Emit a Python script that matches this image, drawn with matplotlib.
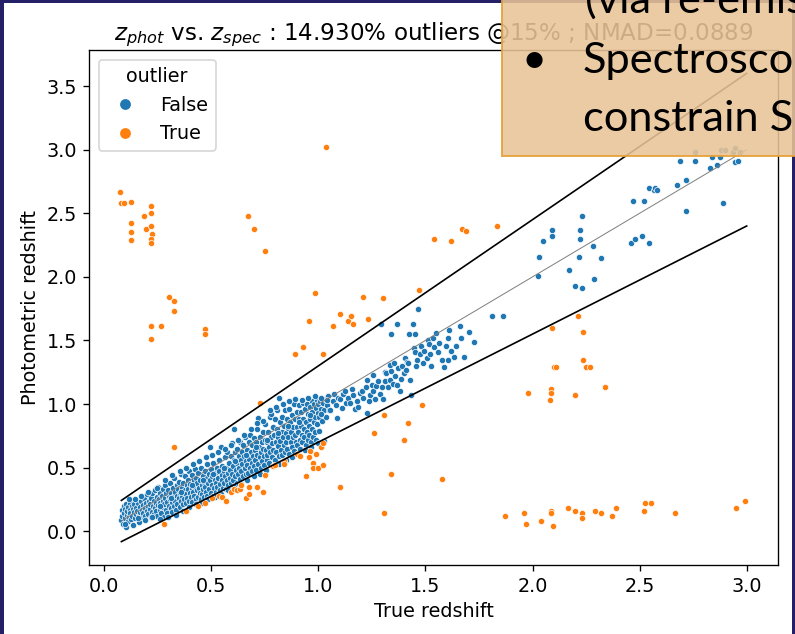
import numpy as np
import matplotlib
matplotlib.use("Agg")
import matplotlib.pyplot as plt
from matplotlib.patches import Rectangle
from matplotlib.lines import Line2D

plt.rcParams['font.size'] = 11.5

# points: (true redshift, photometric redshift)
blue_low = [(0.080,0.085),(0.082,0.170),(0.085,0.120),(0.088,0.060),(0.090,0.200),(0.092,0.140),(0.095,0.100),(0.098,0.175),(0.100,0.215),(0.103,0.030),(0.105,0.130),(0.108,0.155),(0.110,0.080),(0.112,0.190),(0.115,0.110),(0.118,0.220),(0.120,0.165),(0.122,0.140),(0.125,0.095),(0.128,0.200),(0.130,0.120),(0.135,0.175),(0.138,0.150),(0.140,0.215),(0.143,0.105),(0.147,0.185),(0.150,0.135),(0.152,0.160),(0.156,0.220),(0.160,0.070),(0.162,0.120),(0.165,0.190),(0.168,0.150),(0.172,0.240),(0.175,0.110),(0.178,0.170),(0.180,0.205),(0.183,0.140),(0.186,0.260),(0.190,0.180),(0.192,0.120),(0.195,0.225),(0.198,0.155),(0.200,0.290),(0.203,0.195),(0.206,0.135),(0.208,0.240),(0.212,0.175),(0.215,0.215),(0.218,0.115),
            (0.220,0.260),(0.222,0.150),(0.225,0.300),(0.228,0.200),(0.230,0.135),(0.233,0.240),(0.236,0.180),(0.238,0.320),(0.240,0.220),(0.243,0.160),(0.246,0.270),(0.248,0.120),(0.250,0.205),(0.253,0.350),(0.255,0.250),(0.258,0.170),(0.260,0.300),(0.262,0.225),(0.265,0.145),(0.268,0.280),(0.270,0.190),(0.272,0.330),(0.275,0.240),(0.278,0.110),(0.280,0.210),(0.282,0.360),(0.285,0.260),(0.288,0.170),(0.290,0.300),(0.292,0.230),(0.295,0.140),(0.298,0.320),(0.300,0.200),(0.302,0.270),(0.305,0.250),(0.308,0.380),(0.310,0.180),(0.312,0.300),(0.315,0.230),(0.318,0.150),(0.320,0.340),(0.322,0.270),(0.325,0.200),(0.328,0.420),(0.330,0.310),(0.332,0.240),(0.335,0.170),(0.338,0.360),(0.340,0.280),(0.342,0.210),(0.345,0.330),(0.348,0.260),(0.350,0.390),(0.352,0.190),(0.355,0.300),(0.358,0.450),(0.360,0.235),(0.362,0.340),(0.365,0.280),(0.368,0.210)]

blue_mid = [(0.370,0.380),(0.372,0.250),(0.375,0.320),(0.378,0.430),(0.380,0.220),(0.382,0.290),(0.385,0.360),(0.388,0.260),(0.390,0.400),(0.392,0.330),(0.395,0.470),(0.398,0.240),(0.400,0.300),(0.402,0.370),(0.405,0.270),(0.408,0.440),(0.410,0.340),(0.412,0.230),(0.415,0.310),(0.418,0.400),(0.420,0.280),(0.422,0.490),(0.425,0.350),(0.428,0.250),(0.430,0.420),(0.432,0.320),(0.435,0.380),(0.438,0.270),(0.440,0.460),(0.442,0.340),(0.445,0.300),(0.448,0.400),(0.450,0.250),(0.452,0.500),(0.455,0.360),(0.458,0.290),(0.460,0.430),(0.462,0.330),(0.465,0.390),(0.468,0.270),(0.470,0.470),(0.472,0.350),(0.475,0.310),(0.478,0.420),(0.480,0.530),(0.482,0.280),(0.485,0.380),(0.488,0.450),(0.490,0.330),(0.492,0.660),(0.495,0.400),(0.498,0.300),(0.500,0.490),(0.502,0.360),(0.505,0.430),(0.508,0.280),(0.510,0.540),(0.512,0.340),(0.515,0.400),(0.518,0.460),(0.520,0.310),(0.522,0.380),(0.525,0.500),(0.528,0.350),(0.530,0.420),(0.532,0.290),(0.535,0.470),(0.538,0.560),(0.540,0.370),(0.542,0.320),(0.545,0.660),(0.548,0.440),(0.550,0.400),(0.552,0.510),(0.555,0.340),(0.558,0.470),
            (0.560,0.380),(0.562,0.580),(0.565,0.430),(0.568,0.330),(0.570,0.500),(0.572,0.400),(0.575,0.620),(0.578,0.460),(0.580,0.360),(0.582,0.540),(0.585,0.420),(0.588,0.480),(0.590,0.380),(0.592,0.590),(0.595,0.450),(0.598,0.690),(0.600,0.510),(0.602,0.400),(0.605,0.800),(0.608,0.560),(0.610,0.430),(0.612,0.620),(0.615,0.480),(0.618,0.380),(0.620,0.540),(0.622,0.650),(0.625,0.450),(0.628,0.590),(0.630,0.500),(0.632,0.410),(0.635,0.700),(0.638,0.560),(0.640,0.470),(0.642,0.620),(0.645,0.530),(0.648,0.430),(0.650,0.680),(0.652,0.590),(0.655,0.500),(0.658,0.740),(0.660,0.550),(0.662,0.450),(0.665,0.640),(0.668,0.520),(0.670,0.600),(0.672,0.460),(0.675,0.700),(0.678,0.570),(0.680,0.500),(0.682,0.760),(0.685,0.620),(0.688,0.540),(0.690,0.470),(0.692,0.680),(0.695,0.590),(0.698,0.510),(0.700,0.730),(0.702,0.640),(0.705,0.560),(0.708,0.480),(0.710,0.700),(0.712,0.600),(0.715,0.800),(0.718,0.530),(0.720,0.890),(0.722,0.660),(0.725,0.580),(0.728,0.740),(0.730,0.500),(0.732,0.620),(0.735,0.700),(0.738,0.550),(0.740,0.780),(0.742,0.650),(0.745,0.590),(0.748,0.520),(0.750,0.720),(0.752,0.840),(0.755,0.640),(0.758,0.560)]

blue_one = [(0.760,0.700),(0.762,0.600),(0.765,0.780),(0.768,0.540),(0.770,0.660),(0.772,0.900),(0.775,0.620),(0.778,0.740),(0.780,0.920),(0.782,0.580),(0.785,0.690),(0.788,0.820),(0.790,0.640),(0.792,0.760),(0.795,0.560),(0.798,0.880),(0.800,0.700),(0.802,0.620),(0.805,0.800),(0.808,0.950),(0.810,0.670),(0.812,0.740),(0.815,0.590),(0.818,1.050),(0.820,0.860),(0.822,0.710),(0.825,0.640),(0.828,0.780),(0.830,0.900),(0.832,0.600),(0.835,0.740),(0.838,0.680),(0.840,0.830),(0.842,0.950),(0.845,0.620),(0.848,0.770),(0.850,0.700),(0.852,0.880),(0.855,0.650),(0.858,0.810),(0.860,0.740),(0.862,0.960),(0.865,0.610),(0.868,0.860),(0.870,0.700),(0.872,0.780),(0.875,0.910),(0.878,0.660),(0.880,0.820),(0.882,0.740),(0.885,1.000),(0.888,0.630),(0.890,0.880),(0.892,0.760),(0.895,0.700),(0.898,0.940),(0.900,0.820),(0.902,0.680),(0.905,0.780),(0.908,0.990),(0.910,0.880),(0.912,0.720),(0.915,0.650),(0.918,0.830),(0.920,0.940),(0.922,0.760),(0.925,0.700),(0.928,0.880),(0.930,1.010),(0.932,0.800),(0.935,0.740),(0.938,0.960),(0.940,0.680),(0.942,0.860),(0.945,0.780),(0.948,1.000),(0.950,0.920),(0.952,0.720),(0.955,0.830),(0.958,0.760),(0.960,0.980),(0.962,0.880),(0.965,0.700),(0.968,1.020),(0.970,0.800),(0.972,0.940),(0.975,0.740),(0.978,0.860),(0.980,1.000),(0.982,0.900),(0.985,0.780),(0.988,0.970),(0.990,0.720),(0.992,1.030),(0.995,0.840),(0.998,0.930),(1.000,1.000),(1.002,0.790),(1.005,0.900),(1.008,1.020),(1.010,0.960),(1.015,0.870),(1.020,1.010),(1.025,0.950),(1.030,1.040),(1.035,0.900),(1.040,0.990),(1.045,1.060),(1.050,0.950)]

blue_edge = [(0.095,0.060),(0.115,0.250),(0.132,0.050),(0.145,0.250),(0.158,0.100),(0.170,0.280),(0.188,0.090),(0.205,0.310),(0.225,0.110),(0.245,0.340),(0.262,0.095),(0.283,0.400),(0.296,0.110),(0.318,0.440),(0.336,0.130),(0.352,0.470),(0.366,0.160),(0.383,0.500),(0.397,0.190),(0.413,0.530),(0.427,0.210),(0.444,0.550),(0.457,0.220),(0.473,0.580),(0.486,0.250),(0.503,0.600),(0.517,0.270),(0.533,0.620),(0.547,0.290),(0.563,0.650),(0.577,0.320),(0.593,0.680),(0.607,0.350),(0.623,0.720),(0.637,0.370),(0.653,0.760),(0.667,0.400),(0.683,0.800),(0.697,0.430),(0.713,0.850),(0.727,0.450),(0.743,0.870),(0.757,0.480),(0.773,0.950),(0.787,0.510),(0.803,0.980),(0.817,0.530),(0.833,1.000),(0.847,0.560),(0.863,1.020),(0.877,0.580),(0.893,1.040),(0.907,0.610),(0.923,1.030),(0.937,0.640),(0.953,1.050),(0.967,0.660),(0.983,1.060),(0.997,0.690),(1.012,1.050),(1.027,0.710),(1.042,1.030),
             (0.260,0.200),(0.310,0.260),(0.360,0.310),(0.410,0.360),(0.460,0.400),(0.510,0.450),(0.560,0.500),(0.610,0.550),(0.660,0.600),(0.710,0.660),(0.760,0.720),(0.810,0.770),(0.860,0.830),(0.910,0.860),(0.960,0.910),(1.010,0.920)]

blue_high = [(1.055,0.95),(1.066,1.02),(1.073,1.08),(1.080,0.99),(1.086,0.89),(1.092,1.05),(1.100,1.04),(1.108,0.97),(1.115,1.08),(1.124,1.10),(1.130,1.01),(1.140,1.05),(1.147,1.01),(1.155,1.12),(1.163,1.07),(1.170,0.96),(1.178,1.02),(1.186,0.98),(1.193,1.09),(1.202,1.10),(1.210,1.05),(1.222,1.13),(1.228,0.93),(1.225,1.19),(1.235,1.02),(1.240,1.07),(1.248,1.15),(1.256,1.10),(1.256,1.23),(1.264,1.04),(1.271,1.14),(1.279,1.18),(1.287,1.08),(1.295,1.13),(1.302,1.04),(1.310,1.18),(1.310,1.25),(1.318,1.24),(1.326,1.13),(1.334,1.19),(1.334,1.31),(1.341,1.26),(1.348,1.16),(1.352,1.32),(1.357,1.22),(1.365,1.15),(1.372,1.28),(1.380,1.10),(1.385,1.20),(1.392,1.30),(1.291,1.63),(1.365,1.63),(1.340,1.55),(1.430,1.19),(1.434,1.07),
             (1.400,1.24),(1.405,1.36),(1.410,1.27),(1.415,1.33),(1.419,1.32),(1.424,1.55),(1.441,1.63),(1.445,1.44),(1.450,1.41),(1.450,1.55),(1.455,1.30),(1.460,1.35),(1.467,1.75),(1.473,1.39),(1.480,1.46),(1.489,1.32),(1.495,1.42),(1.505,1.36),(1.510,1.50),(1.517,1.47),(1.520,1.39),(1.528,1.30),(1.535,1.52),(1.540,1.45),(1.550,1.56),(1.558,1.41),(1.565,1.48),(1.575,1.35),(1.588,1.29),(1.597,1.46),(1.605,1.52),(1.605,1.35),(1.612,1.58),(1.620,1.42),(1.635,1.37),(1.643,1.46),(1.661,1.61),(1.666,1.52),(1.678,1.37),(1.704,1.57),(1.728,1.49),
             (1.810,1.69),(1.860,1.69),(2.025,2.01),(2.030,2.16),(2.050,2.28),(2.090,2.32),(2.090,2.37),(2.170,2.05),(2.200,1.93),(2.215,2.16),(2.220,2.30),(2.220,2.37),(2.230,1.91),(2.230,2.48),(2.285,1.98),(2.280,2.24),(2.320,2.15),(2.460,2.27),(2.480,2.30),(2.510,2.32),(2.545,2.27),(2.470,2.60),(2.520,2.60),(2.545,2.70),(2.565,2.68),(2.570,2.70),(2.580,2.68),(2.675,2.72),(2.690,2.91),(2.715,2.76),(2.715,2.52),(2.760,2.91),(2.760,2.98),(2.830,2.86),(2.840,2.94),(2.860,2.88),(2.875,2.94),(2.880,3.00),(2.890,2.58),(2.900,3.00),(2.935,2.98),(2.945,2.90),(2.945,3.01),(2.960,2.91),(2.970,2.98)]

orange_top = [(0.075,2.67),(0.078,2.58),(0.090,2.58),(0.125,2.59),(0.125,2.42),(0.125,2.35),(0.125,2.29),(0.187,2.48),(0.195,2.38),(0.218,2.56),(0.218,2.50),(0.218,2.40),(0.222,2.34),(0.218,2.30),(0.218,2.27),
              (0.300,1.84),(0.325,1.81),(0.325,1.73),(0.220,1.61),(0.220,1.51),(0.265,1.61),(0.470,1.59),(0.470,1.55),(0.670,2.48),(0.700,2.38),(0.750,2.20),(0.985,1.87),(0.890,1.39),(0.930,1.45),(0.955,1.65),(1.020,1.39),(1.070,1.61),(1.100,1.71),(1.140,1.65),(1.150,1.69),(1.160,1.63),(1.210,1.84),(1.230,1.67),(1.300,1.83),(0.725,1.01),(1.305,0.91),(1.035,3.02),
              (1.540,2.30),(1.620,2.28),(1.670,2.38),(1.690,2.36),(1.835,2.40),(1.470,1.90),(2.210,1.69),(2.090,1.60),(2.235,1.57),(2.235,1.35),(2.100,1.29),(2.110,1.29),(2.250,1.29),(2.270,1.29),(2.340,1.13),(1.980,1.09),(2.085,1.12),(2.085,1.09),(2.080,1.03),(2.200,1.07),(1.485,0.99),(1.420,0.85),(1.260,0.77),(1.400,0.72)]

orange_low = [(1.575,0.41),(1.340,0.45),(1.305,0.14),(1.100,0.35),
              (1.870,0.12),(1.960,0.14),(1.970,0.06),(2.040,0.08),(2.085,0.16),(2.085,0.14),(2.095,0.04),(2.165,0.18),(2.200,0.16),(2.230,0.14),(2.230,0.10),(2.290,0.16),(2.320,0.14),(2.370,0.12),(2.390,0.18),(2.520,0.16),(2.525,0.22),(2.555,0.22),(2.665,0.14),(2.950,0.18),(2.990,0.24),
              (0.325,0.66),(0.280,0.06),(0.380,0.16),(0.440,0.20),(0.470,0.22),(0.505,0.26),(0.535,0.28),(0.550,0.27),(0.570,0.24),(0.590,0.31),(0.605,0.33),(0.620,0.32),(0.635,0.33),(0.640,0.36),(0.660,0.26),(0.675,0.29),(0.675,0.35),(0.715,0.35),(0.740,0.31),(0.750,0.44),(0.790,0.51),(0.795,0.52),(0.840,0.55),(0.840,0.53),(0.900,0.61),(0.915,0.59),(0.940,0.43),(0.955,0.58),(0.960,0.63),(0.975,0.54),(0.975,0.50),(1.000,0.50),(0.990,0.61),(1.010,0.66),(1.020,0.69),(1.020,0.52)]

z_range = [0.08, 3.0]   # span of the 15% lines
title_txt = r"$z_{phot}$ vs. $z_{spec}$ : 14.930% outliers @15% ; NMAD=0.0889"

blue = np.array(blue_low + blue_mid + blue_one + blue_edge + blue_high)
orange = np.array(orange_top + orange_low)

W, H = 795, 634
fig = plt.figure(figsize=(W/120, H/120), dpi=120, facecolor='#241f66')
# white panel of the pasted image
fig.add_artist(Rectangle((4/W, 0), 788/W, 631/H, transform=fig.transFigure,
                         facecolor='white', edgecolor='none', zorder=-1))

ax = fig.add_axes([89/W, 1-565/H, (778-89)/W, (565-50)/H])
ax.scatter(blue[:,0], blue[:,1], s=14, c='#1f77b4', edgecolors='white', linewidths=0.4, zorder=2)
ax.scatter(orange[:,0], orange[:,1], s=14, c='#ff7f0e', edgecolors='white', linewidths=0.4, zorder=2)

zz = np.array(z_range)
ax.plot(zz, zz, color='grey', lw=0.6, zorder=3)
ax.plot(zz, zz + 0.15*(1+zz), color='black', lw=1.0, zorder=3)
ax.plot(zz, zz - 0.15*(1+zz), color='black', lw=1.0, zorder=3)

ax.set_xlabel("True redshift")
ax.set_ylabel("Photometric redshift")
ax.set_title(title_txt)

handles = [Line2D([], [], marker='o', ls='', color='#1f77b4', markeredgecolor='white', markersize=7.5),
           Line2D([], [], marker='o', ls='', color='#ff7f0e', markeredgecolor='white', markersize=7.5)]
ax.legend(handles, ['False', 'True'], title='outlier', loc='upper left')

# slide text box laid over the picture
fig.add_artist(Rectangle((502/W, 1-156/H), 0.45, 0.3, transform=fig.transFigure,
                         facecolor='#e9c497', edgecolor='#e6a035', lw=1.2, alpha=0.88, zorder=5))
box_font = dict(family='Lato', fontsize=26, color='black', va='baseline', zorder=6)
fig.text(585/W, 1-13/H, "(via re-emission", **box_font)
fig.text(522/W, 1-73/H, "\u2022", **box_font)
fig.text(583/W, 1-73/H, "Spectroscopic", **box_font)
fig.text(583/W, 1-131/H, "constrain SEDs", **box_font)

fig.savefig("out.png", dpi=120, facecolor=fig.get_facecolor())
